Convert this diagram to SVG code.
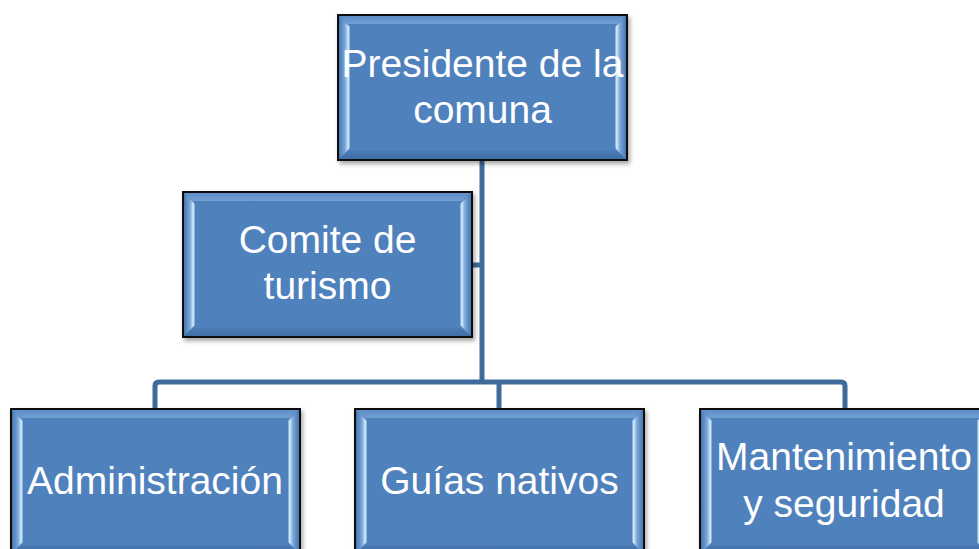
<svg xmlns="http://www.w3.org/2000/svg" xmlns:xlink="http://www.w3.org/1999/xlink" width="979" height="549" viewBox="0 0 979 549">
<style>
.box{fill:#4F81BD;stroke:#111;stroke-width:2;filter:url(#sh)}
.lbl{font-family:"Liberation Sans",Arial,sans-serif;font-size:39px;fill:#fff;text-anchor:middle}
.con{fill:none;stroke:#3E6A9C;stroke-width:5;stroke-linejoin:round}
</style>
<defs>
<filter id="sh" x="-5%" y="-5%" width="115%" height="115%">
<feDropShadow dx="2" dy="3" stdDeviation="2" flood-color="#000" flood-opacity="0.35"/>
</filter>
<linearGradient id="gl" x1="0" y1="0" x2="1" y2="0">
<stop offset="0" stop-color="#4676b0"/><stop offset="0.55" stop-color="#7aa6d8"/><stop offset="0.85" stop-color="#d4ecfc"/><stop offset="1" stop-color="#6d9ad0"/>
</linearGradient>
<linearGradient id="gr" x1="1" y1="0" x2="0" y2="0">
<stop offset="0" stop-color="#4676b0"/><stop offset="0.55" stop-color="#7aa6d8"/><stop offset="0.85" stop-color="#d4ecfc"/><stop offset="1" stop-color="#6d9ad0"/>
</linearGradient>
<linearGradient id="gt" x1="0" y1="0" x2="0" y2="1">
<stop offset="0" stop-color="#5d8cc6"/><stop offset="1" stop-color="#73a0d4"/>
</linearGradient>
<linearGradient id="gb" x1="0" y1="0" x2="0" y2="1">
<stop offset="0" stop-color="#4a7bb7"/><stop offset="1" stop-color="#416ea6"/>
</linearGradient>
<g id="bevel">
<polygon points="1,1 288,1 279,9 10,9" fill="url(#gt)"/>
<polygon points="1,144 288,144 279,136 10,136" fill="url(#gb)"/>
<polygon points="1,1 12,12 12,133 1,144" fill="url(#gl)"/>
<polygon points="288,1 277,12 277,133 288,144" fill="url(#gr)"/>
</g>
</defs>
<g id="connectors">
<path class="con" d="M482,160 V382"/>
<path class="con" d="M472,265 H482"/>
<path class="con" d="M155,409 V386 Q155,382 159,382 H841 Q845,382 845,386 V409"/>
<path class="con" d="M499,382 V409"/>
</g>
<g id="n-presidente">
<rect class="box" x="338" y="15" width="289" height="145"/>
<use xlink:href="#bevel" x="338" y="15"/>
<text class="lbl" x="482.5" y="77">Presidente de la</text>
<text class="lbl" x="482.5" y="123">comuna</text>
</g>
<g id="n-comite">
<rect class="box" x="183" y="192" width="289" height="145"/>
<use xlink:href="#bevel" x="183" y="192"/>
<text class="lbl" x="327.5" y="253">Comite de</text>
<text class="lbl" x="327.5" y="299">turismo</text>
</g>
<g id="n-admin">
<rect class="box" x="11" y="409" width="289" height="145"/>
<use xlink:href="#bevel" x="11" y="409"/>
<text class="lbl" x="155" y="494">Administración</text>
</g>
<g id="n-guias">
<rect class="box" x="355" y="409" width="289" height="145"/>
<use xlink:href="#bevel" x="355" y="409"/>
<text class="lbl" x="499.5" y="494">Guías nativos</text>
</g>
<g id="n-mant">
<rect class="box" x="700" y="409" width="289" height="145"/>
<use xlink:href="#bevel" x="700" y="409"/>
<text class="lbl" x="844" y="470">Mantenimiento</text>
<text class="lbl" x="844" y="517">y seguridad</text>
</g>
</svg>
